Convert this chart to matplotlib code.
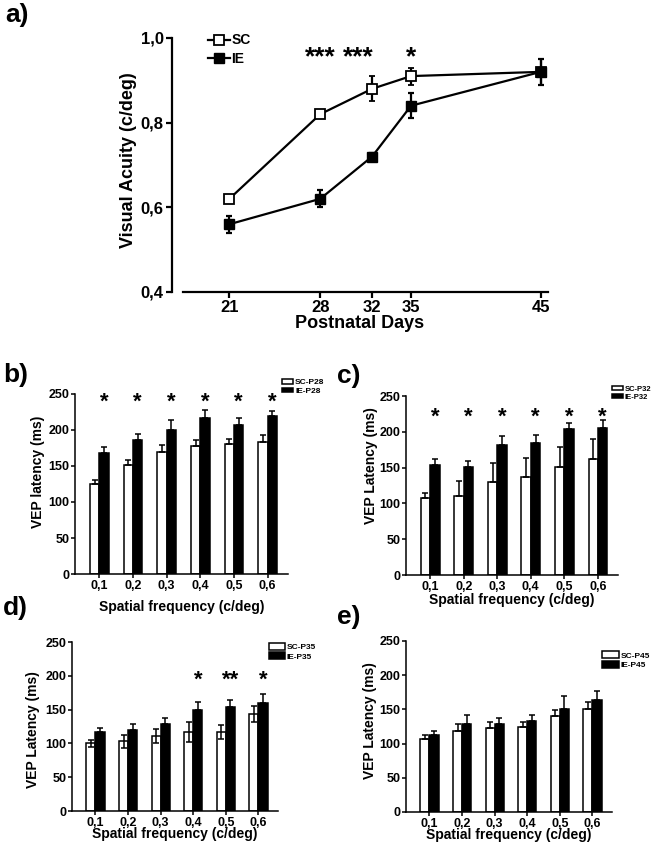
import numpy as np
import matplotlib
matplotlib.use("Agg")
import matplotlib.pyplot as plt
from matplotlib.lines import Line2D

plt.rcParams['font.family'] = ['Liberation Sans', 'DejaVu Sans']
plt.rcParams['font.weight'] = 'bold'

# --- panel a data: visual acuity ---
days = [21, 28, 32, 35, 45]
sc_acuity = [0.62, 0.82, 0.88, 0.91, 0.92]
sc_acuity_err = [0.006, 0.006, 0.03, 0.02, 0.03]
ie_acuity = [0.56, 0.62, 0.72, 0.84, 0.92]
ie_acuity_err = [0.02, 0.02, 0.008, 0.03, 0.03]
acuity_ticks = [0.4, 0.6, 0.8, 1.0]
acuity_ticklabels = ['0,4', '0,6', '0,8', '1,0']
acuity_stars = ['***', '***', '*']
acuity_star_x = [28, 30.9, 35]

# --- bar panels data: VEP latency ---
freq_labels = ['0,1', '0,2', '0,3', '0,4', '0,5', '0,6']

sc_p28 = [125, 152, 169, 178, 180, 183]
sc_p28_err = [5, 6, 10, 8, 7, 10]
ie_p28 = [168, 186, 200, 217, 207, 219]
ie_p28_err = [8, 9, 14, 11, 9, 8]
stars_p28 = ['*', '*', '*', '*', '*', '*']

sc_p32 = [107, 110, 130, 137, 151, 162]
sc_p32_err = [7, 21, 26, 26, 28, 28]
ie_p32 = [154, 151, 181, 184, 204, 205]
ie_p32_err = [8, 8, 13, 12, 9, 12]
stars_p32 = ['*', '*', '*', '*', '*', '*']

sc_p35 = [100, 103, 111, 117, 117, 143]
sc_p35_err = [5, 10, 10, 15, 10, 12]
ie_p35 = [117, 120, 128, 149, 154, 160]
ie_p35_err = [6, 9, 10, 13, 10, 13]
stars_p35 = ['', '', '', '*', '**', '*']

sc_p45 = [107, 118, 123, 124, 140, 151]
sc_p45_err = [5, 10, 9, 8, 9, 10]
ie_p45 = [113, 129, 128, 133, 150, 164]
ie_p45_err = [5, 12, 9, 8, 19, 13]
stars_p45 = ['', '', '', '', '', '']

fig = plt.figure(figsize=(6.6, 8.48), dpi=100)

# ---------------- panel a ----------------
ax = fig.add_axes([0.2606, 0.6557, 0.5697, 0.2995])
ax.errorbar(days, sc_acuity, yerr=sc_acuity_err, color='black', lw=1.6,
            marker='s', ms=7, mfc='white', mec='black', mew=1.3,
            capsize=2.5, elinewidth=1.6, capthick=1.6, zorder=3)
ax.errorbar(days, ie_acuity, yerr=ie_acuity_err, color='black', lw=1.6,
            marker='s', ms=7, mfc='black', mec='black',
            capsize=2.5, elinewidth=1.6, capthick=1.6, zorder=4)
ax.set_xlim(16.58, 45.55)
ax.set_ylim(0.4, 1.0)
ax.set_xticks(days)
ax.set_xticklabels([str(d) for d in days])
ax.set_yticks(acuity_ticks)
ax.set_yticklabels(acuity_ticklabels)
for s in ['top', 'right']:
    ax.spines[s].set_visible(False)
for s in ['left', 'bottom']:
    ax.spines[s].set_linewidth(1.6)
ax.spines['bottom'].set_bounds(17.45, 45.55)
ax.tick_params(width=1.6, length=4, labelsize=12, pad=2)
ax.set_ylabel('Visual Acuity (c/deg)', fontsize=13, fontweight='bold')
ax.yaxis.set_label_coords(-0.093, 0.52)
ax.set_xlabel('Postnatal Days', fontsize=13, fontweight='bold')
ax.xaxis.set_label_coords(0.5, -0.09)
for x, st in zip(acuity_star_x, acuity_stars):
    ax.text(x, 0.955, st, ha='center', va='center', fontsize=19, clip_on=False)
handles = [Line2D([], [], color='black', lw=1.6, marker='s', ms=7, mfc='white', mec='black', mew=1.3),
           Line2D([], [], color='black', lw=1.6, marker='s', ms=7, mfc='black', mec='black')]
ax.legend(handles, ['SC', 'IE'], loc='upper left', bbox_to_anchor=(0.08, 1.04),
          frameon=False, fontsize=10, handlelength=1.6, handletextpad=0.1,
          labelspacing=0.3, borderaxespad=0)
fig.text(0.008, 0.982, 'a)', fontsize=19, fontweight='bold', va='center')


def bar_panel(rect, sc, sc_err, ie, ie_err, stars, star_y, sc_lab, ie_lab,
              ylabel, ylab_xy, xlab_y, leg_xy, leg_fs, leg_hl, leg_hh, both_sides):
    ax = fig.add_axes(rect)
    x = np.arange(len(freq_labels))
    w = 0.28
    ax.bar(x - w / 2, sc, w, color='white', edgecolor='black', lw=1.1, zorder=2, label=sc_lab)
    ax.bar(x + w / 2, ie, w, color='black', edgecolor='black', lw=1.1, zorder=2, label=ie_lab)
    lower = sc_err if both_sides else np.zeros(len(sc_err))
    ax.errorbar(x - w / 2, sc, yerr=[lower, sc_err], fmt='none', ecolor='black',
                elinewidth=1.1, capsize=2, capthick=1.1, zorder=3)
    ax.errorbar(x + w / 2, ie, yerr=[np.zeros(len(ie_err)), ie_err], fmt='none', ecolor='black',
                elinewidth=1.1, capsize=2, capthick=1.1, zorder=3)
    for xi, st in zip(x, stars):
        if st:
            ax.text(xi + w / 2, star_y, st, ha='center', va='center', fontsize=16)
    ax.set_xlim(-0.72, 5.6)
    ax.set_ylim(0, 250)
    ax.set_yticks(np.arange(0, 251, 50))
    ax.set_xticks(x)
    ax.set_xticklabels(freq_labels)
    for s in ['top', 'right']:
        ax.spines[s].set_visible(False)
    for s in ['left', 'bottom']:
        ax.spines[s].set_linewidth(1.1)
    ax.tick_params(width=1.1, length=3, labelsize=9, pad=1)
    ax.set_ylabel(ylabel, fontsize=10, fontweight='bold')
    ax.yaxis.set_label_coords(*ylab_xy)
    ax.set_xlabel('Spatial frequency (c/deg)', fontsize=10, fontweight='bold')
    ax.xaxis.set_label_coords(0.5, xlab_y)
    ax.legend(loc='upper left', bbox_to_anchor=leg_xy, bbox_transform=fig.transFigure,
              frameon=False, handlelength=leg_hl, handleheight=leg_hh,
              handletextpad=0.2, labelspacing=0.15, borderaxespad=0, borderpad=0,
              prop={'weight': 'bold', 'size': leg_fs})
    return ax


bar_panel([0.1136, 0.3231, 0.3227, 0.2123], sc_p28, sc_p28_err, ie_p28, ie_p28_err,
          stars_p28, 238, 'SC-P28', 'IE-P28', 'VEP latency (ms)', (-0.141, 0.567),
          -0.145, (0.427, 0.553), 6, 1.4, 0.5, False)
bar_panel([0.6152, 0.3219, 0.3212, 0.2111], sc_p32, sc_p32_err, ie_p32, ie_p32_err,
          stars_p32, 220, 'SC-P32', 'IE-P32', 'VEP Latency (ms)', (-0.132, 0.609),
          -0.10, (0.928, 0.545), 5.5, 1.4, 0.5, False)
bar_panel([0.1091, 0.0436, 0.3121, 0.1993], sc_p35, sc_p35_err, ie_p35, ie_p35_err,
          stars_p35, 194, 'SC-P35', 'IE-P35', 'VEP Latency (ms)', (-0.155, 0.483),
          -0.095, (0.407, 0.242), 6, 2.0, 0.9, True)
bar_panel([0.6152, 0.0425, 0.3121, 0.2017], sc_p45, sc_p45_err, ie_p45, ie_p45_err,
          stars_p45, 200, 'SC-P45', 'IE-P45', 'VEP Latency (ms)', (-0.141, 0.534),
          -0.094, (0.912, 0.232), 6, 2.0, 0.9, False)

fig.text(0.005, 0.558, 'b)', fontsize=19, fontweight='bold', va='center')
fig.text(0.51, 0.557, 'c)', fontsize=19, fontweight='bold', va='center')
fig.text(0.005, 0.283, 'd)', fontsize=19, fontweight='bold', va='center')
fig.text(0.51, 0.272, 'e)', fontsize=19, fontweight='bold', va='center')

fig.savefig('out.png', dpi=100)
